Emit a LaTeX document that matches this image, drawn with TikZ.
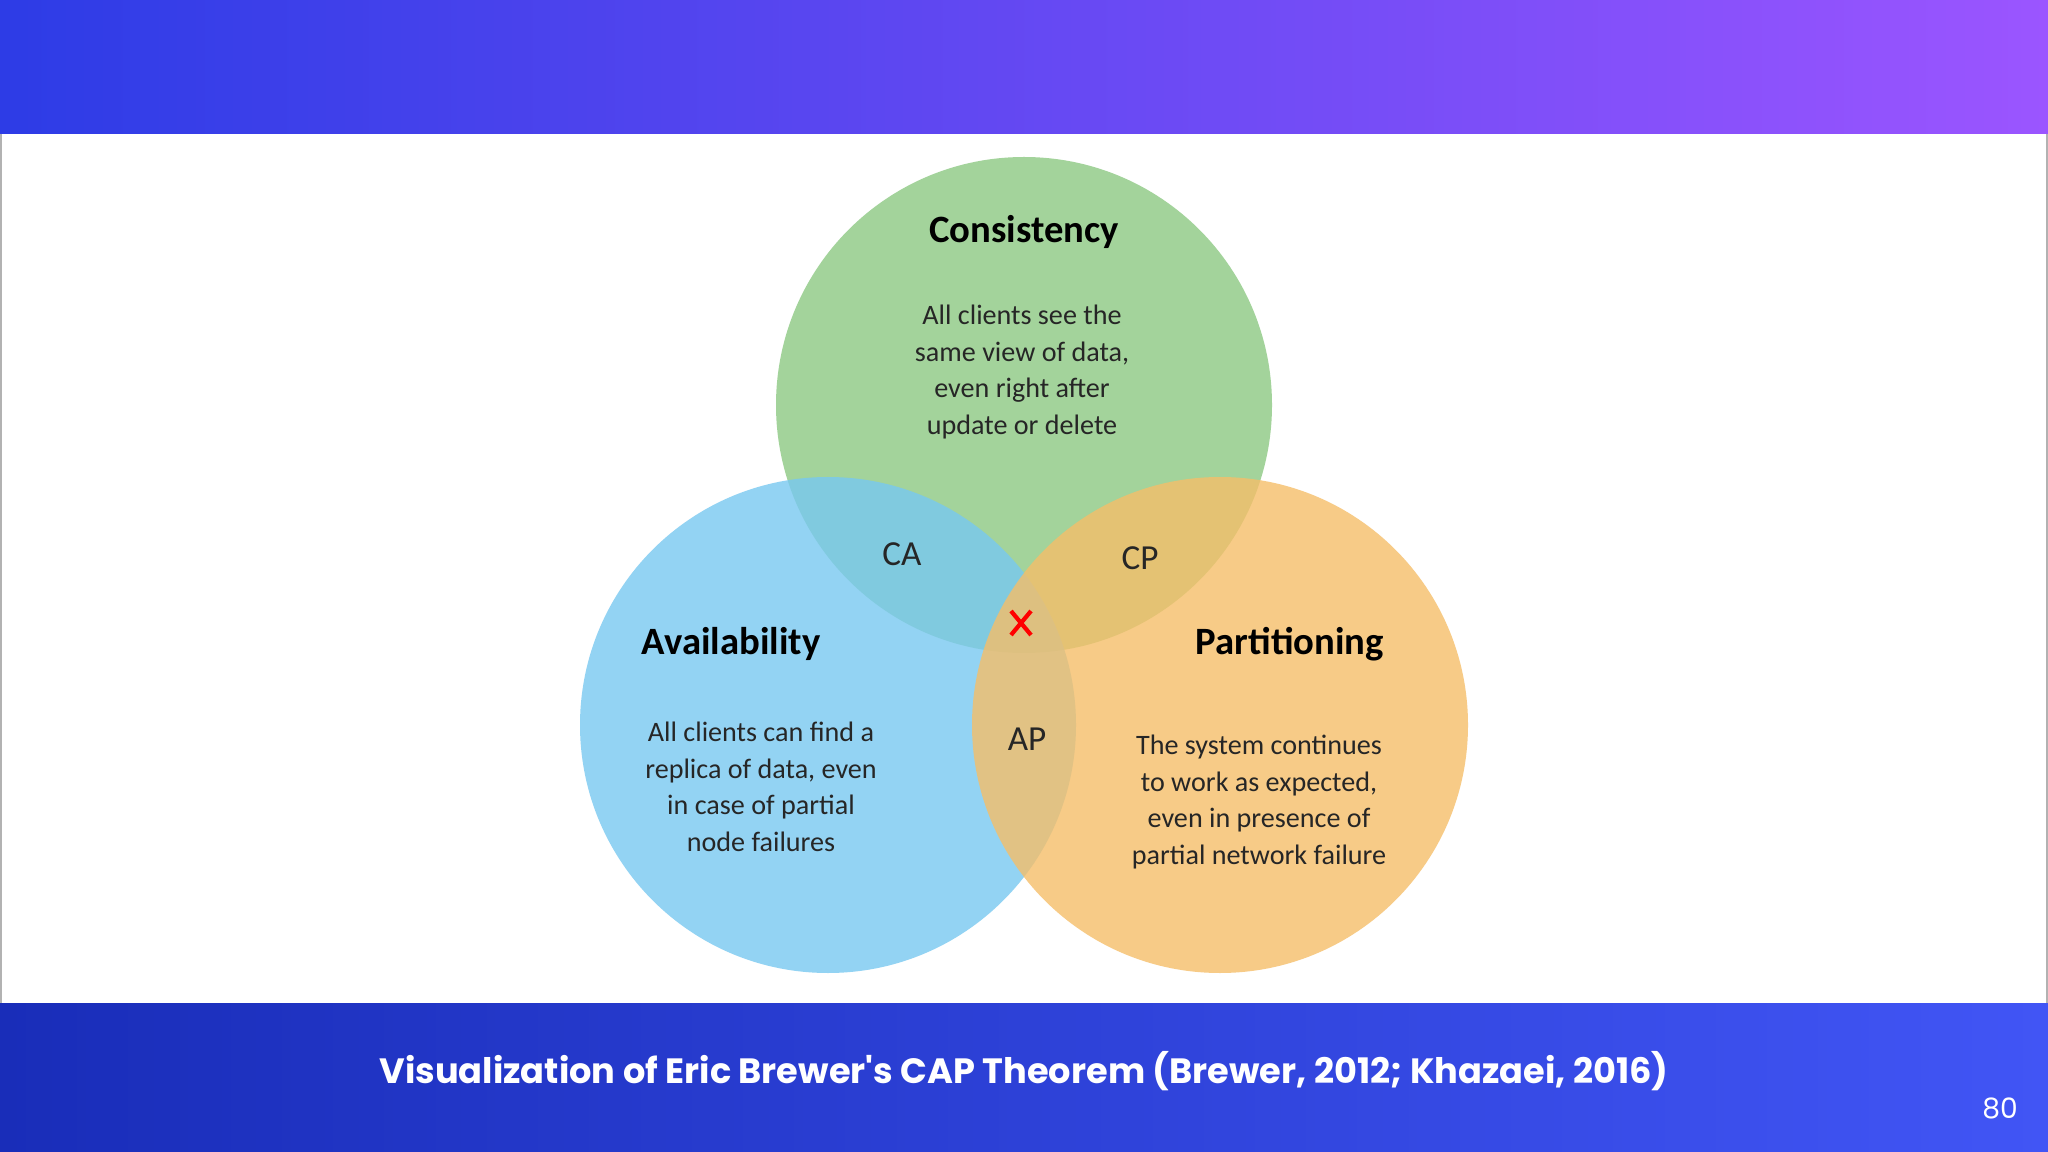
\documentclass[tikz,border=0pt]{standalone}
\usepackage{fontspec}
\setmainfont{Carlito}
\newfontfamily\capfont{Poppins}
\begin{document}
\begin{tikzpicture}[x=0.01cm,y=-0.01cm,
  circ/.style={fill opacity=0.8},
  ttl/.style={font=\fontsize{11}{13}\selectfont\bfseries},
  body/.style={font=\fontsize{8}{10.4}\selectfont,align=center,text=black!85},
  pair/.style={font=\fontsize{10}{12}\selectfont,text=black!85}]
\useasboundingbox (0,0) rectangle (2048,1152);
\fill[white] (0,0) rectangle (2048,1152);
\shade[left color={rgb,255:red,45;green,60;blue,230},right color={rgb,255:red,155;green,85;blue,255}] (0,0) rectangle (2048,134);
\shade[left color={rgb,255:red,25;green,45;blue,185},right color={rgb,255:red,65;green,85;blue,245}] (0,1003) rectangle (2048,1152);
\draw[gray!60,line width=0.6pt] (0.5,134) -- (0.5,1003) (2047.5,134) -- (2047.5,1003);
\fill[circ,fill={rgb,255:red,140;green,200;blue,130}] (1024,405) circle (248);
\fill[circ,fill={rgb,255:red,120;green,200;blue,240}] (828,725) circle (248);
\fill[circ,fill={rgb,255:red,245;green,190;blue,105}] (1220,725) circle (248);
\node[ttl] (c) at (1024,232) {Consistency};
\node[body] (cb) at (1022,372) {All clients see the\\same view of data,\\even right after\\update or delete};
\node[ttl] (a) at (731,644) {Availability};
\node[body] (ab) at (761,787) {All clients can find a\\replica of data, even\\in case of partial\\node failures};
\node[ttl] (p) at (1290,644) {Partitioning};
\node[body] (pb) at (1259,802) {The system continues\\to work as expected,\\even in presence of\\partial network failure};
\node[pair] (ca) at (902,554) {CA};
\node[pair] (cp) at (1140,558) {CP};
\node[pair] (ap) at (1027,739) {AP};
\draw[red,line width=1.2pt] (1011,611) -- (1031,635) (1031,611) -- (1011,635);
\node[font=\capfont\fontsize{10}{12}\selectfont\bfseries,text=white] (cap) at (1024,1071) {Visualization of Eric Brewer's CAP Theorem (Brewer, 2012; Khazaei, 2016)};
\node[font=\capfont\fontsize{8}{10}\selectfont,text=white] (num) at (2000,1108) {80};
\end{tikzpicture}
\end{document}
